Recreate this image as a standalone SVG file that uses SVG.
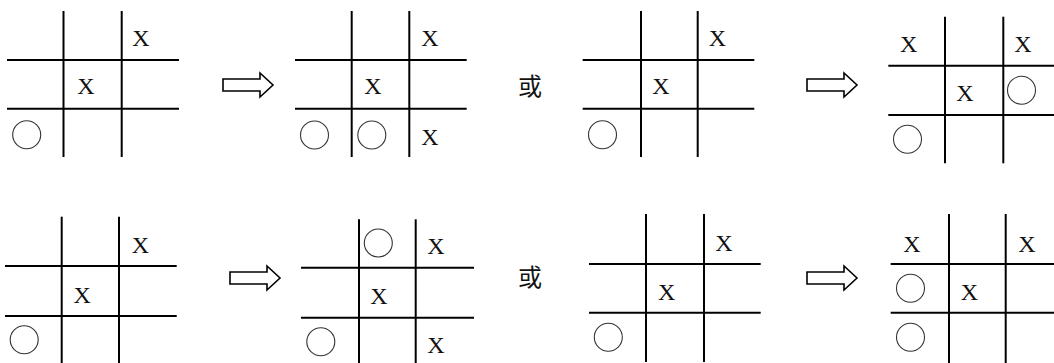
<svg xmlns="http://www.w3.org/2000/svg" width="1054" height="363" viewBox="0 0 1054 363">
<style>
.g line{stroke:#000;stroke-width:2}
.x{font-family:"Liberation Serif","Times New Roman",serif;font-size:24px;text-anchor:middle;fill:#111}
.o{fill:none;stroke:#333;stroke-width:1.1}
.or{font-family:"Noto Sans CJK SC","Noto Sans CJK JP",sans-serif;font-size:24px;text-anchor:middle;fill:#111}
.arr{fill:#fff;stroke:#000;stroke-width:1.6;stroke-linejoin:miter}
</style>
<defs>
<path id="arrow" class="arr" d="M0,-6 H37 V-12 L50,0 L37,12 V6 H0 Z"/>
</defs>
<rect width="1054" height="363" fill="#fff"/>

<g id="grid1" class="g">
<line x1="63.5" y1="11" x2="63.5" y2="157"/><line x1="121.7" y1="11" x2="121.7" y2="157"/>
<line x1="7" y1="60" x2="179" y2="60"/><line x1="7" y1="108.7" x2="179" y2="108.7"/>
<text class="x" x="141" y="46">X</text><text class="x" x="86" y="94">X</text>
<circle class="o" cx="26.7" cy="134.7" r="14"/>
</g>

<g id="grid2" class="g">
<line x1="351.7" y1="11" x2="351.7" y2="157"/><line x1="409.3" y1="11" x2="409.3" y2="157"/>
<line x1="295" y1="60" x2="466.7" y2="60"/><line x1="295" y1="108.7" x2="466.7" y2="108.7"/>
<text class="x" x="430" y="46">X</text><text class="x" x="373" y="94">X</text><text class="x" x="430" y="145">X</text>
<circle class="o" cx="314.5" cy="135" r="14"/><circle class="o" cx="371.8" cy="135" r="14"/>
</g>

<g id="or1"><text class="or" x="530" y="95">或</text></g>

<g id="grid3" class="g">
<line x1="641" y1="11" x2="641" y2="157"/><line x1="697.7" y1="11" x2="697.7" y2="157"/>
<line x1="582.7" y1="60" x2="754.3" y2="60"/><line x1="582.7" y1="108.7" x2="754.3" y2="108.7"/>
<text class="x" x="717.5" y="46">X</text><text class="x" x="661" y="94">X</text>
<circle class="o" cx="602.5" cy="134.7" r="14"/>
</g>

<g id="grid4" class="g">
<line x1="945" y1="16.7" x2="945" y2="163.3"/><line x1="1003.3" y1="16.7" x2="1003.3" y2="163.3"/>
<line x1="888.3" y1="65.7" x2="1054" y2="65.7"/><line x1="888.3" y1="115" x2="1054" y2="115"/>
<text class="x" x="908.7" y="51.7">X</text><text class="x" x="1022.8" y="51.7">X</text><text class="x" x="965" y="101">X</text>
<circle class="o" cx="1021.5" cy="90.3" r="14"/><circle class="o" cx="907.5" cy="139.3" r="14"/>
</g>

<g id="grid5" class="g">
<line x1="61.7" y1="216.7" x2="61.7" y2="363"/><line x1="119" y1="216.7" x2="119" y2="363"/>
<line x1="5" y1="266" x2="176.7" y2="266"/><line x1="5" y1="316" x2="176.7" y2="316"/>
<text class="x" x="140.3" y="252.7">X</text><text class="x" x="82.2" y="302.7">X</text>
<circle class="o" cx="24.2" cy="339.7" r="14"/>
</g>

<g id="grid6" class="g">
<line x1="359" y1="219.3" x2="359" y2="363"/><line x1="415.7" y1="219.3" x2="415.7" y2="363"/>
<line x1="301" y1="267.7" x2="474" y2="267.7"/><line x1="301" y1="317.7" x2="474" y2="317.7"/>
<circle class="o" cx="378.3" cy="243" r="14"/><circle class="o" cx="320.8" cy="341.7" r="14"/>
<text class="x" x="436" y="254">X</text><text class="x" x="379" y="304">X</text><text class="x" x="436" y="353.3">X</text>
</g>

<g id="or2"><text class="or" x="530" y="286">或</text></g>

<g id="grid7" class="g">
<line x1="646" y1="214" x2="646" y2="362"/><line x1="704" y1="214" x2="704" y2="362"/>
<line x1="589" y1="264" x2="760.7" y2="264"/><line x1="589" y1="312.7" x2="760.7" y2="312.7"/>
<text class="x" x="724" y="251">X</text><text class="x" x="666.7" y="300">X</text>
<circle class="o" cx="608.3" cy="337.2" r="14"/>
</g>

<g id="grid8" class="g">
<line x1="949" y1="214" x2="949" y2="363"/><line x1="1005.7" y1="214" x2="1005.7" y2="363"/>
<line x1="890.7" y1="264" x2="1054" y2="264"/><line x1="890.7" y1="312.7" x2="1054" y2="312.7"/>
<text class="x" x="912" y="251.7">X</text><text class="x" x="1027" y="251.7">X</text><text class="x" x="969.5" y="300">X</text>
<circle class="o" cx="910.5" cy="288.3" r="14"/><circle class="o" cx="910.5" cy="337.2" r="14"/>
</g>

<g id="connectors">
<use href="#arrow" transform="translate(223,85)"/>
<use href="#arrow" transform="translate(807,85)"/>
<use href="#arrow" transform="translate(230,278)"/>
<use href="#arrow" transform="translate(807,278)"/>
</g>
</svg>
